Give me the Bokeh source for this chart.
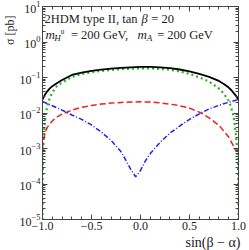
from bokeh.plotting import figure
from bokeh.models import (Label, FixedTicker, LinearAxis, LogAxis, Title)
from bokeh.embed import file_html
from bokeh.resources import INLINE

# ---------------- data ----------------
x_total = [-1.0, -0.98, -0.96, -0.93, -0.9, -0.85, -0.8, -0.7, -0.6, -0.5, -0.4, -0.3,
           -0.2, -0.1, 0.0, 0.1, 0.2, 0.3, 0.4, 0.5, 0.6, 0.7, 0.8, 0.85, 0.9, 0.93,
           0.96, 0.98, 1.0]
sigma_total = [0.024, 0.031, 0.038, 0.048, 0.057, 0.07, 0.085, 0.118, 0.138, 0.154, 0.167,
               0.178, 0.187, 0.194, 0.198, 0.198, 0.193, 0.184, 0.168, 0.148, 0.126, 0.104,
               0.08, 0.066, 0.052, 0.043, 0.034, 0.029, 0.023]

x_green = [-1.0, -0.9995, -0.999, -0.995, -0.99, -0.98, -0.97, -0.96, -0.94, -0.91, -0.88,
           -0.85, -0.8, -0.7, -0.6, -0.5, -0.4, -0.3, -0.2, -0.1, 0.0, 0.1, 0.2, 0.3, 0.4,
           0.5, 0.6, 0.7, 0.8, 0.85, 0.9, 0.92, 0.95, 0.97, 0.985, 0.995, 0.999, 0.9995, 1.0]
sigma_green = [1e-6, 2e-5, 1e-4, 6e-4, 0.0015, 0.004, 0.008, 0.012, 0.021, 0.033, 0.046,
               0.058, 0.072, 0.103, 0.125, 0.14, 0.153, 0.164, 0.172, 0.178, 0.181, 0.18,
               0.175, 0.165, 0.148, 0.127, 0.101, 0.077, 0.049, 0.035, 0.022, 0.016, 0.008,
               0.003, 0.001, 3e-4, 6e-5, 2e-5, 1e-6]

x_red = [-1.0, -0.99, -0.97, -0.95, -0.9, -0.85, -0.8, -0.7, -0.6, -0.5, -0.4, -0.3, -0.2,
         -0.1, 0.0, 0.1, 0.2, 0.3, 0.4, 0.5, 0.6, 0.7, 0.8, 0.85, 0.9, 0.94, 0.97, 1.0]
sigma_red = [0.001, 0.0018, 0.003, 0.004, 0.006, 0.0078, 0.0093, 0.012, 0.0145, 0.0163,
             0.0178, 0.019, 0.0198, 0.0204, 0.0207, 0.0203, 0.0193, 0.0178, 0.016, 0.0137,
             0.0106, 0.0073, 0.0045, 0.0031, 0.0021, 0.0013, 0.0009, 0.0008]

x_blue = [-1.0, -0.9, -0.8, -0.7, -0.6, -0.5, -0.4, -0.3, -0.2, -0.15, -0.1, -0.05, 0.0,
          0.05, 0.1, 0.2, 0.3, 0.4, 0.5, 0.6, 0.7, 0.8, 0.9, 1.0]
sigma_blue = [0.021, 0.016, 0.012, 0.0088, 0.0066, 0.0046, 0.0029, 0.0017, 0.00082, 0.00047,
              0.00026, 0.00016, 0.00024, 0.00045, 0.00072, 0.0015, 0.0027, 0.0043, 0.0066,
              0.0095, 0.013, 0.0165, 0.02, 0.024]

x_ticks = [-1.0, -0.5, 0.0, 0.5, 1.0]
x_tick_labels = ["\u22121.0", "\u22120.5", "0.0", "0.5", "1.0"]
x_minor_ticks = [-0.9, -0.8, -0.7, -0.6, -0.4, -0.3, -0.2, -0.1,
                 0.1, 0.2, 0.3, 0.4, 0.6, 0.7, 0.8, 0.9]
y_ticks = [1e-5, 1e-4, 1e-3, 1e-2, 1e-1, 1e0, 1e1]
x_label = "sin(\u03b2 \u2212 \u03b1)"
y_label = "\u03c3  [pb]"

# ---------------- layout helpers (canvas pixels -> data) ----------------
W, H = 249, 250
FL, FR, FT, FB = 38, 238, 6, 219   # frame edges in canvas pixels (requested)
def xd(px):
    return -1.0 + 2.0 * (px - FL) / (FR - FL)
def yd(py):
    return 10 ** (1.0 - 6.0 * (py - FT) / (FB - FT))

SERIF = "Liberation Serif"
AX = "#444444"
TXT = "#222222"

p = figure(width=W, height=H, x_range=(-1, 1), y_range=(1e-5, 10),
           y_axis_type="log", output_backend="svg", toolbar_location=None,
           min_border_left=FL, min_border_right=W - FR,
           min_border_top=FT, min_border_bottom=H - FB)
p.grid.visible = False
p.outline_line_color = AX
p.background_fill_color = "white"
p.border_fill_color = "white"

minor_y = [k * 10.0 ** e for e in range(-5, 1) for k in range(2, 10)]
xt = FixedTicker(ticks=x_ticks, minor_ticks=x_minor_ticks)
yt = FixedTicker(ticks=y_ticks, minor_ticks=minor_y)

def style(ax, labels=True):
    ax.axis_line_color = AX
    ax.major_tick_line_color = AX
    ax.minor_tick_line_color = AX
    ax.major_tick_in = 5
    ax.major_tick_out = 0
    ax.minor_tick_in = 3
    ax.minor_tick_out = 0
    if labels:
        ax.major_label_text_font = SERIF
        ax.major_label_text_font_size = "12px"
        ax.major_label_text_color = TXT
        ax.major_label_standoff = 3
    else:
        ax.major_label_text_font_size = "1px"
        ax.major_label_text_color = None
        ax.major_label_standoff = 0

p.xaxis.ticker = xt
p.xaxis.major_label_overrides = dict(zip(x_ticks, x_tick_labels))
p.yaxis.ticker = yt
for ax in p.xaxis + p.yaxis:
    style(ax)
p.xaxis.major_label_standoff = 2
p.yaxis.major_label_standoff = 2

top = LinearAxis(ticker=xt)
style(top, labels=False)
p.add_layout(top, "above")
right = LogAxis(ticker=yt)
style(right, labels=False)
p.add_layout(right, "right")

# axis titles as side-panel titles (right / top aligned like the reference)
p.add_layout(Title(text=x_label, align="right", text_font=SERIF, text_font_size="14px",
                   text_font_style="normal", text_color=TXT, standoff=0, offset=-2),
             "below")
p.add_layout(Title(text=y_label, align="right", text_font=SERIF, text_font_size="12px",
                   text_font_style="normal", text_color=TXT, standoff=0, offset=6),
             "left")

# ---------------- curves ----------------
p.line(x_green, sigma_green, line_color="#22b422", line_width=2.2, line_dash="2 3")
p.line(x_red, sigma_red, line_color="#ee2020", line_width=1.5, line_dash="6 3")
p.line(x_blue, sigma_blue, line_color="#2020ee", line_width=1.5, line_dash="5 2 1 2")
p.line(x_total, sigma_total, line_color="black", line_width=1.8)

# ---------------- texts inside the frame ----------------
def lab(px, py, text, size="12.5px", italic=False):
    p.add_layout(Label(x=xd(px), y=yd(py), text=text, text_font=SERIF,
                       text_font_size=size, text_font_style="italic" if italic else "normal",
                       text_baseline="alphabetic", text_align="left", text_color=TXT))

# line 1
lab(40, 18, "2HDM type II, tan")
lab(139, 18, "\u03b2", italic=True)
lab(149, 18, "= 20")
# line 2
lab(41, 34, "m", size="13px", italic=True)
lab(50, 37, "H", size="9px", italic=True)
lab(56.5, 31, "0", size="7px")
lab(67, 34, "= 200 GeV,")
lab(135, 34, "m", size="13px", italic=True)
lab(144.5, 37, "A", size="9px", italic=True)
lab(155, 34, "= 200 GeV")

open("out.html", "w").write(file_html(p, INLINE))
